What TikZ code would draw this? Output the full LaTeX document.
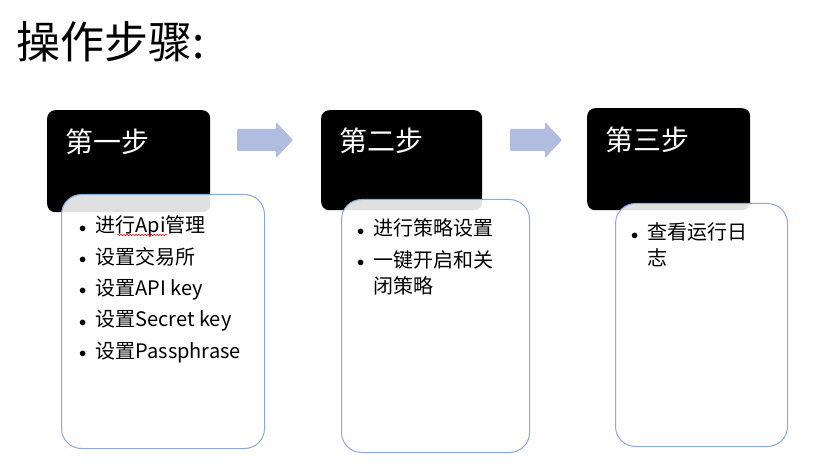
\documentclass[tikz,border=0pt]{standalone}
\usepackage{fontspec}
\setmainfont{Noto Sans CJK SC}
\usetikzlibrary{positioning,decorations.pathmorphing}
\definecolor{arrowfill}{RGB}{176,188,224}
\definecolor{listedge}{RGB}{140,168,222}
\tikzset{
  stepbox/.style={fill=black,rounded corners=8pt,inner sep=0pt,anchor=north west},
  listbox/.style={draw=listedge,line width=1pt,fill=white,fill opacity=0.88,text opacity=1,rounded corners=20pt,inner sep=0pt,anchor=north west},
  steptitle/.style={text=white,font=\fontsize{28}{30}\selectfont,inner sep=0pt,anchor=west},
  steplist/.style={font=\fontsize{20}{26}\selectfont,inner sep=0pt,anchor=north west,align=left},
  blockarrow/.style={fill=arrowfill,rounded corners=1pt}
}
\newcommand{\itm}{\makebox[17.5pt][l]{\hspace{1pt}\raisebox{0.5pt}{\fontsize{15}{15}\selectfont$\bullet$}}}
\begin{document}
\begin{tikzpicture}[x=1pt,y=-1pt]
			\useasboundingbox (0,0) rectangle (814,473);
			% title
			\node[anchor=west,inner sep=0pt,font=\fontsize{44}{46}\selectfont] (title) at (16,42) {操作步骤:};
			% black step boxes
			\node[stepbox,minimum width=163pt,minimum height=102pt] (step1) at (47,110) {};
			\node[stepbox,minimum width=161pt,minimum height=100pt] (step2) at (321,110) {};
			\node[stepbox,minimum width=163pt,minimum height=102pt] (step3) at (587,108) {};
			\node[steptitle] (name1) at (65,142) {第一步};
			\node[steptitle] (name2) at (339,141) {第二步};
			\node[steptitle] (name3) at (605,140) {第三步};
			% white list boxes
			\node[listbox,minimum width=203pt,minimum height=254pt] (list1) at (61,194) {};
			\node[listbox,minimum width=188pt,minimum height=253pt] (list2) at (341,199) {};
			\node[listbox,minimum width=172pt,minimum height=243pt] (list3) at (615,203) {};
			\node[steplist] (items1) at (78,214.4) {%
				\begin{tabular}{@{}l@{}l@{}}
				\itm & 进行Api管理\\[5.3pt]
				\itm & 设置交易所\\[5.3pt]
				\itm & 设置API key\\[5.3pt]
				\itm & 设置Secret key\\[5.3pt]
				\itm & 设置Passphrase
				\end{tabular}};
			\node[steplist] (items2) at (356,217.4) {%
				\begin{tabular}{@{}l@{}l@{}}
				\itm & 进行策略设置\\[5.3pt]
				\itm & 一键开启和关\\
				     & 闭策略
				\end{tabular}};
			\node[steplist] (items3) at (630,221.4) {%
				\begin{tabular}{@{}l@{}l@{}}
				\itm & 查看运行日\\
				     & 志
				\end{tabular}};
			\draw[red,line width=0.5pt,decorate,decoration={snake,amplitude=0.7pt,segment length=3pt}] (117,235) -- (167,235);
			% arrows between steps
			\fill[blockarrow] (237,129) -- (276,129) -- (276,122) -- (293,140) -- (276,158) -- (276,151) -- (237,151) -- cycle;
			\fill[blockarrow] (510,129) -- (545,129) -- (545,122) -- (562,140) -- (545,158) -- (545,151) -- (510,151) -- cycle;
\end{tikzpicture}
\end{document}
